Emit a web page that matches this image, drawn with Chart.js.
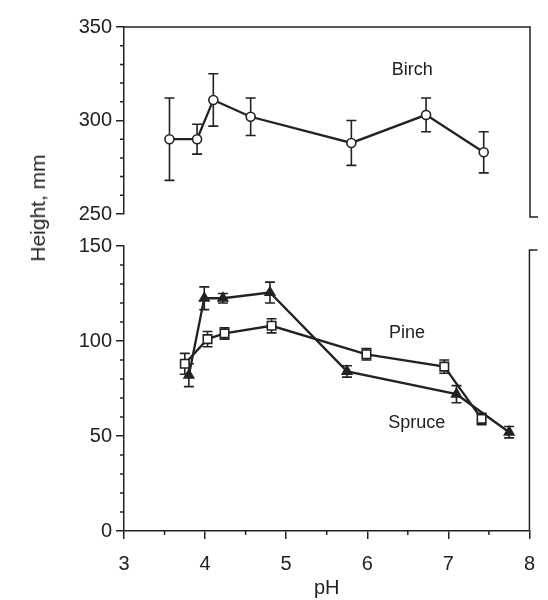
<!DOCTYPE html>
<html>
<head>
<meta charset="utf-8">
<script src="https://cdn.jsdelivr.net/npm/chart.js@4.4.1/dist/chart.umd.min.js"></script>
<style>
  body { margin: 0; background: #fff; }
  #wrap { position: relative; width: 548px; height: 600px; font-family: "Liberation Sans", Arial, sans-serif; }
  #topBox { position: absolute; left: 0; top: 0; width: 548px; height: 230px; }
  #botBox { position: absolute; left: 0; top: 230px; width: 548px; height: 370px; }
  #ytitle { position: absolute; left: 38px; top: 208px; transform: translate(-50%, -50%) rotate(-90deg);
            font-size: 21px; color: #222; white-space: nowrap; }
</style>
</head>
<body>
<div id="wrap">
  <div id="topBox"><canvas id="topChart"></canvas></div>
  <div id="botBox"><canvas id="botChart"></canvas></div>
  <div id="ytitle">Height, mm</div>
</div>
<script>
///////////// DATA /////////////

// pH, mean height (mm) and error bar half length
const birchPH  = [3.56, 3.90, 4.10, 4.56, 5.80, 6.72, 7.43];
const birchH   = [290, 290, 311, 302, 288, 303, 283];
const birchErr = [22, 8, 14, 10, 12, 9, 11];

const pinePH  = [3.75, 4.03, 4.24, 4.82, 5.99, 6.95, 7.41];
const pineH   = [88, 101, 104, 108, 93, 86.5, 59];
const pineErr = [5.5, 4, 3, 3.7, 3, 3.5, 3];

const sprucePH  = [3.80, 3.99, 4.22, 4.80, 5.75, 7.10, 7.75];
const spruceH   = [82, 122.5, 122.5, 125.5, 84, 72, 52];
const spruceErr = [6, 6, 2.5, 5.5, 3, 4.5, 3];

const xTicks   = [3, 4, 5, 6, 7, 8];
const topTicks = [250, 300, 350];
const botTicks = [0, 50, 100, 150];

///////////// STYLE /////////////

const ink = '#222';
const font = 'Liberation Sans, Arial, sans-serif';

const pts = (xs, ys) => xs.map((x, i) => ({ x, y: ys[i] }));

// error bars, broken-axis frame, minor ticks and series names
const decor = {
  id: 'decor',
  beforeDatasetsDraw(chart) {
    const ctx = chart.ctx, xs = chart.scales.x, ys = chart.scales.y;
    ctx.save();
    ctx.strokeStyle = ink;
    ctx.lineWidth = 1.6;
    chart.data.datasets.forEach(ds => {
      ds.data.forEach((p, i) => {
        const px = xs.getPixelForValue(p.x);
        const lo = ys.getPixelForValue(p.y - ds.err[i]);
        const hi = ys.getPixelForValue(p.y + ds.err[i]);
        ctx.beginPath();
        ctx.moveTo(px, lo); ctx.lineTo(px, hi);
        ctx.moveTo(px - 5, lo); ctx.lineTo(px + 5, lo);
        ctx.moveTo(px - 5, hi); ctx.lineTo(px + 5, hi);
        ctx.stroke();
      });
    });
    ctx.restore();
  },
  afterDraw(chart, args, opts) {
    const ctx = chart.ctx, a = chart.chartArea, xs = chart.scales.x, ys = chart.scales.y;
    ctx.save();
    ctx.strokeStyle = ink;
    ctx.lineWidth = 1.5;
    ctx.beginPath();
    if (opts.part === 'top') {
      ctx.moveTo(a.left, a.top); ctx.lineTo(a.right, a.top);
      ctx.lineTo(a.right, a.bottom + 3); ctx.lineTo(a.right + 8, a.bottom + 3);
    } else {
      ctx.moveTo(a.right + 8, a.top + 4); ctx.lineTo(a.right, a.top + 4);
      ctx.lineTo(a.right, a.bottom);
    }
    // minor ticks
    for (let v = ys.min; v <= ys.max; v += 10) {
      if (v % 50 === 0) continue;
      const py = ys.getPixelForValue(v);
      ctx.moveTo(a.left - 4, py); ctx.lineTo(a.left, py);
    }
    if (opts.part === 'bottom') {
      for (let v = xs.min + 0.5; v < xs.max; v += 1) {
        const px = xs.getPixelForValue(v);
        ctx.moveTo(px, a.bottom); ctx.lineTo(px, a.bottom + 4);
      }
    }
    ctx.stroke();

    ctx.fillStyle = ink;
    ctx.font = '18px ' + font;
    ctx.textAlign = 'center';
    ctx.textBaseline = 'middle';
    opts.names.forEach(n => {
      ctx.fillText(n.text, xs.getPixelForValue(n.x), ys.getPixelForValue(n.y));
    });
    ctx.restore();
  }
};

function yScale(min, max, ticks) {
  return {
    min, max,
    afterBuildTicks: s => { s.ticks = ticks.map(v => ({ value: v })); },
    afterFit: s => { s.width = 124; },
    ticks: { color: ink, font: { size: 20, family: font }, padding: 4 },
    grid: { drawOnChartArea: false, drawTicks: true, tickLength: 8, color: ink, lineWidth: 1.5 },
    border: { display: true, color: ink, width: 1.5 }
  };
}

const lineStyle = {
  borderColor: ink,
  borderWidth: 2.3,
  tension: 0,
  pointBorderColor: ink,
  pointBorderWidth: 1.6
};

///////////// TOP PANEL: BIRCH /////////////

new Chart(document.getElementById('topChart'), {
  type: 'line',
  data: {
    datasets: [{
      ...lineStyle,
      label: 'Birch',
      data: pts(birchPH, birchH),
      err: birchErr,
      pointStyle: 'circle',
      pointRadius: 4.5,
      pointBackgroundColor: '#fff'
    }]
  },
  options: {
    animation: false,
    responsive: true,
    maintainAspectRatio: false,
    layout: { padding: { top: 27, bottom: 15, left: 0, right: 18 } },
    plugins: {
      legend: { display: false },
      tooltip: { enabled: false },
      decor: { part: 'top', names: [{ text: 'Birch', x: 6.55, y: 327 }] }
    },
    scales: {
      x: { type: 'linear', min: 3, max: 8, display: false },
      y: yScale(250, 350, topTicks)
    }
  },
  plugins: [decor]
});

///////////// BOTTOM PANEL: PINE AND SPRUCE /////////////

new Chart(document.getElementById('botChart'), {
  type: 'line',
  data: {
    datasets: [{
      ...lineStyle,
      label: 'Pine',
      data: pts(pinePH, pineH),
      err: pineErr,
      pointStyle: 'rect',
      pointRadius: 6,
      pointBackgroundColor: '#fff'
    }, {
      ...lineStyle,
      label: 'Spruce',
      data: pts(sprucePH, spruceH),
      err: spruceErr,
      pointStyle: 'triangle',
      pointRadius: 5.5,
      pointBackgroundColor: ink
    }]
  },
  options: {
    animation: false,
    responsive: true,
    maintainAspectRatio: false,
    layout: { padding: { top: 16, bottom: 0, left: 0, right: 18 } },
    plugins: {
      legend: { display: false },
      tooltip: { enabled: false },
      decor: {
        part: 'bottom',
        names: [{ text: 'Pine', x: 6.49, y: 104 }, { text: 'Spruce', x: 6.61, y: 57 }]
      }
    },
    scales: {
      x: {
        type: 'linear', min: 3, max: 8,
        afterBuildTicks: s => { s.ticks = xTicks.map(v => ({ value: v })); },
        afterFit: s => { s.height = 69; },
        ticks: { color: ink, font: { size: 20, family: font }, padding: 13, maxRotation: 0 },
        grid: { drawOnChartArea: false, drawTicks: true, tickLength: 8, color: ink, lineWidth: 1.5 },
        border: { display: true, color: ink, width: 1.5 },
        title: { display: true, text: 'pH', color: ink, font: { size: 20, family: font }, padding: { top: 0, bottom: 0 } }
      },
      y: yScale(0, 150, botTicks)
    }
  },
  plugins: [decor]
});
</script>
</body>
</html>
